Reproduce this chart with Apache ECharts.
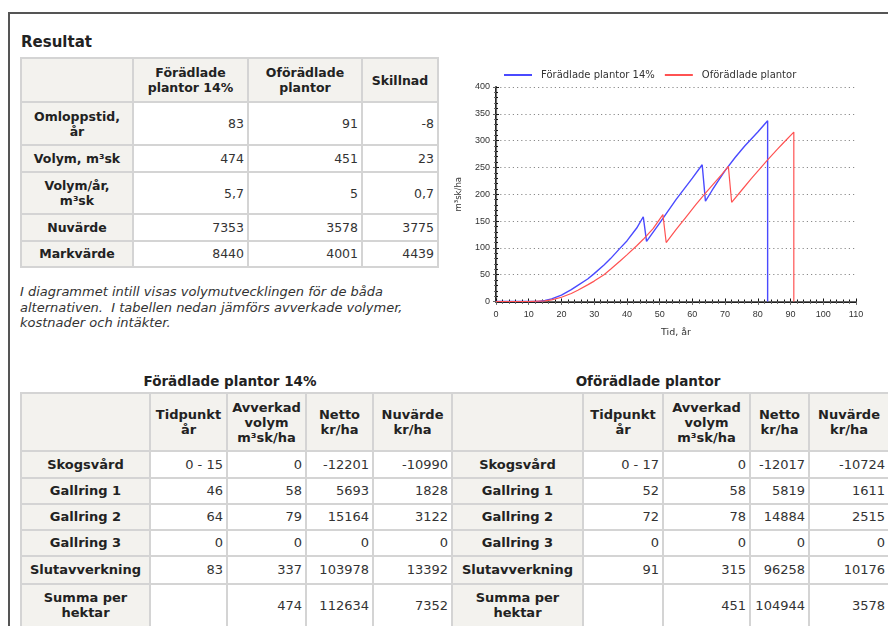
<!DOCTYPE html>
<html><head><meta charset="utf-8">
<script src="https://cdn.jsdelivr.net/npm/echarts@6/dist/echarts.min.js"></script>
<style>
html,body{margin:0;padding:0;background:#fff;}
#page{position:relative;width:888px;height:626px;overflow:hidden;font-family:'DejaVu Sans',Verdana,sans-serif;color:#333;background:#fff;}
#frame{position:absolute;left:8px;top:12px;width:900px;height:700px;border-top:2px solid #555;border-left:2px solid #555;}
#title{position:absolute;left:21px;top:33px;font-weight:bold;font-size:15px;color:#222;}
table{position:absolute;border-collapse:collapse;table-layout:fixed;}
td{border:2px solid #d4d4d4;padding:0 3px;vertical-align:middle;overflow:hidden;white-space:nowrap;line-height:15px;}
td.h{background:#f3f2ee;font-weight:bold;text-align:center;color:#222;}
td.v{text-align:right;background:#fff;}
#t1 td{font-size:12.5px;}
#t2 td{font-size:13px;}
#note{position:absolute;left:20px;top:284px;font-size:13px;font-style:italic;line-height:15.5px;color:#333;white-space:nowrap;}
.sub{position:absolute;top:373px;font-weight:bold;font-size:13.5px;color:#222;transform:translateX(-50%);white-space:nowrap;}
#chart{position:absolute;left:440px;top:55px;width:448px;height:300px;}
</style></head>
<body><div id="page">
<div id="frame"></div>
<div id="title">Resultat</div>
<table id="t1"></table>
<div id="note">I diagrammet intill visas volymutvecklingen för de båda<br>alternativen.&nbsp; I tabellen nedan jämförs avverkade volymer,<br>kostnader och intäkter.</div>
<div class="sub" style="left:230px">Förädlade plantor 14%</div>
<div class="sub" style="left:648px">Oförädlade plantor</div>
<table id="t2"></table>
<div id="chart"></div>
</div>
<script>
// ---- Result table ----
const resCols = ['Förädlade<br>plantor 14%', 'Oförädlade<br>plantor', 'Skillnad'];
const resRows = ['Omloppstid,<br>år', 'Volym, m³sk', 'Volym/år,<br>m³sk', 'Nuvärde', 'Markvärde'];
const resFor  = ['83', '474', '5,7', '7353', '8440'];
const resOfor = ['91', '451', '5', '3578', '4001'];
const resDiff = ['-8', '23', '0,7', '3775', '4439'];

// ---- Harvest tables ----
const atgCols = ['Tidpunkt<br>år', 'Avverkad<br>volym<br>m³sk/ha', 'Netto<br>kr/ha', 'Nuvärde<br>kr/ha'];
const atgRows = ['Skogsvård', 'Gallring 1', 'Gallring 2', 'Gallring 3', 'Slutavverkning', 'Summa per<br>hektar'];
const forTid   = ['0 - 15', '46', '64', '0', '83', ''];
const forVol   = ['0', '58', '79', '0', '337', '474'];
const forNetto = ['-12201', '5693', '15164', '0', '103978', '112634'];
const forNuv   = ['-10990', '1828', '3122', '0', '13392', '7352'];
const oforTid   = ['0 - 17', '52', '72', '0', '91', ''];
const oforVol   = ['0', '58', '78', '0', '315', '451'];
const oforNetto = ['-12017', '5819', '14884', '0', '96258', '104944'];
const oforNuv   = ['-10724', '1611', '2515', '0', '10176', '3578'];

// ---- Chart data: volume (m³sk/ha) over time (år) ----
const tidFor  = [0, 10, 13, 15, 17, 20, 23, 25, 28, 30, 33, 35, 38, 40, 43, 45, 46, 50, 55, 60, 63, 64, 66, 68, 70, 73, 76, 80, 83, 83];
const volFor  = [0, 0, 0, 2, 5, 12, 22, 30, 42, 52, 68, 80, 100, 113, 137, 158, 112, 146, 190, 230, 255, 187, 207, 226, 244, 268, 290, 316, 337, 0];
const tidOfor = [0, 10, 15, 17, 20, 23, 25, 28, 30, 33, 35, 38, 40, 43, 45, 48, 51, 52, 55, 58, 61, 64, 67, 69, 71, 72, 75, 78, 80, 83, 86, 88, 91, 91];
const volOfor = [0, 0, 1, 3, 8, 15, 21, 31, 38, 50, 60, 76, 87, 104, 116, 136, 162, 110, 134, 157, 180, 202, 223, 237, 252, 185, 207, 229, 243, 264, 284, 297, 316, 0];
const xTicks = [0, 10, 20, 30, 40, 50, 60, 70, 80, 90, 100, 110];
const yTicks = [0, 50, 100, 150, 200, 250, 300, 350, 400];

// build table 1
(function(){
  const widths = [112, 115, 114, 76];
  const heights = [44, 43, 27, 42, 26.5, 26.5];
  const t = document.getElementById('t1');
  t.style.left = '20px'; t.style.top = '57px';
  t.style.width = widths.reduce((a,b)=>a+b,0) + 'px';
  let h = '<colgroup>' + widths.map(w=>'<col style="width:'+w+'px">').join('') + '</colgroup>';
  h += '<tr style="height:'+heights[0]+'px"><td class="h"></td>' + resCols.map(c=>'<td class="h">'+c+'</td>').join('') + '</tr>';
  resRows.forEach((r,i)=>{
    h += '<tr style="height:'+heights[i+1]+'px"><td class="h">'+r+'</td><td class="v">'+resFor[i]+'</td><td class="v">'+resOfor[i]+'</td><td class="v">'+resDiff[i]+'</td></tr>';
  });
  t.innerHTML = h;
})();
// build table 2
(function(){
  const widths = [129, 77, 79, 67, 79, 131, 80, 87, 59, 80];
  const heights = [58, 26.5, 26, 26, 26, 28, 43];
  const t = document.getElementById('t2');
  t.style.left = '20px'; t.style.top = '392px';
  t.style.width = widths.reduce((a,b)=>a+b,0) + 'px';
  let h = '<colgroup>' + widths.map(w=>'<col style="width:'+w+'px">').join('') + '</colgroup>';
  const head = '<td class="h"></td>' + atgCols.map(c=>'<td class="h">'+c+'</td>').join('');
  h += '<tr style="height:'+heights[0]+'px">' + head + head + '</tr>';
  atgRows.forEach((r,i)=>{
    h += '<tr style="height:'+heights[i+1]+'px">' +
      '<td class="h">'+r+'</td><td class="v">'+forTid[i]+'</td><td class="v">'+forVol[i]+'</td><td class="v">'+forNetto[i]+'</td><td class="v">'+forNuv[i]+'</td>' +
      '<td class="h">'+r+'</td><td class="v">'+oforTid[i]+'</td><td class="v">'+oforVol[i]+'</td><td class="v">'+oforNetto[i]+'</td><td class="v">'+oforNuv[i]+'</td></tr>';
  });
  t.innerHTML = h;
})();

const pairs = (xs, ys) => xs.map((x,i)=>[x, ys[i]]);
const chart = echarts.init(document.getElementById('chart'), null, {renderer:'canvas'});
const dark = '#111';
const frameC = '#666';
const lblFont = {fontFamily:'Liberation Sans', fontSize:9, color:'#333'};
const xBase = {type:'value', min:0, max:110, interval:10, splitLine:{show:false}};
const yBase = {type:'value', min:0, max:400, interval:50};
chart.setOption({
  animation:false,
  legend:{
    top:10, left:59, itemWidth:28, itemHeight:2, itemGap:10, icon:'rect',
    textStyle:{fontFamily:'DejaVu Sans', fontSize:10, color:'#333', padding:[0,0,0,4]},
    data:['Förädlade plantor 14%', 'Oförädlade plantor']
  },
  grid:{left:56, top:32, width:360, height:214.5, outerBoundsMode:'none', containLabel:false},
  xAxis:[
    Object.assign({}, xBase, {position:'bottom', name:'Tid, år', nameLocation:'middle', nameGap:26,
      nameTextStyle:{fontFamily:'DejaVu Sans', fontSize:9.5, color:'#333'},
      axisLine:{lineStyle:{color:dark, width:1.5}},
      axisTick:{show:true, length:3, lineStyle:{color:dark}},
      minorTick:{show:true, splitNumber:5, length:2, lineStyle:{color:dark}},
      axisLabel:Object.assign({margin:9, formatter:v=>xTicks.includes(v)?String(v):''}, lblFont)}),
    Object.assign({}, xBase, {position:'bottom',
      axisLine:{lineStyle:{color:dark, width:1.5}},
      axisTick:{show:true, inside:true, length:3, lineStyle:{color:dark}},
      minorTick:{show:true, splitNumber:5, length:2, lineStyle:{color:dark}},
      axisLabel:{show:false}}),
    Object.assign({}, xBase, {position:'top',
      axisLine:{lineStyle:{color:frameC, width:1.2}},
      axisTick:{show:true, inside:true, length:3, lineStyle:{color:frameC}},
      minorTick:{show:true, splitNumber:5, length:2, lineStyle:{color:frameC}},
      axisLabel:{show:false}})
  ],
  yAxis:[
    Object.assign({}, yBase, {position:'left', name:'m³sk/ha', nameLocation:'middle', nameGap:33, nameRotate:90,
      nameTextStyle:{fontFamily:'DejaVu Sans', fontSize:8.5, color:'#333'},
      axisLine:{show:true, lineStyle:{color:dark, width:1.5}},
      axisTick:{show:true, length:3, lineStyle:{color:dark}},
      minorTick:{show:true, splitNumber:5, length:2, lineStyle:{color:dark}},
      splitLine:{show:true, lineStyle:{color:'#8a8a8a', type:[1.2,3], width:1}},
      axisLabel:Object.assign({margin:6, formatter:v=>yTicks.includes(v)?String(v):''}, lblFont)}),
    Object.assign({}, yBase, {position:'left',
      axisLine:{show:true, lineStyle:{color:dark, width:1.5}},
      axisTick:{show:true, inside:true, length:3, lineStyle:{color:dark}},
      minorTick:{show:true, splitNumber:5, length:2, lineStyle:{color:dark}},
      splitLine:{show:false}, axisLabel:{show:false}}),
    Object.assign({}, yBase, {position:'right',
      axisLine:{show:true, lineStyle:{color:frameC, width:1.2}},
      axisTick:{show:true, inside:true, length:3, lineStyle:{color:frameC}},
      minorTick:{show:true, splitNumber:5, length:2, lineStyle:{color:frameC}},
      splitLine:{show:false}, axisLabel:{show:false}})
  ],
  series:[
    {name:'Förädlade plantor 14%', type:'line', xAxisIndex:0, yAxisIndex:0, showSymbol:false, symbol:'none',
     lineStyle:{color:'#4a4aff', width:1.4}, itemStyle:{color:'#4a4aff'}, data:pairs(tidFor, volFor), z:3},
    {name:'Oförädlade plantor', type:'line', xAxisIndex:0, yAxisIndex:0, showSymbol:false, symbol:'none',
     lineStyle:{color:'#ff5252', width:1.2}, itemStyle:{color:'#ff5252'}, data:pairs(tidOfor, volOfor), z:4}
  ]
});
</script>
</body></html>
